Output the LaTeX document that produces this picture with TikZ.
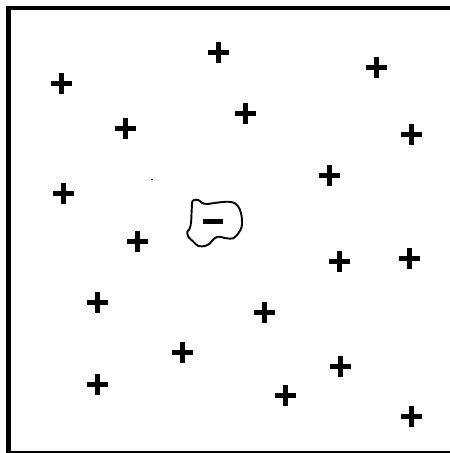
\documentclass[tikz,border=0pt]{standalone}
\begin{document}
\begin{tikzpicture}[x=1pt,y=-1pt,
  plussign/.pic={\draw[line width=5pt] (-10.5,0)--(10.5,0) (0,-10.5)--(0,10.5);},
  framestyle/.style={line width=4.6pt},
  blobstyle/.style={line width=1.9pt, line join=round}]
\clip (0,0) rectangle (450,453);
\fill[white] (0,0) rectangle (450,453);
% frame
\draw[framestyle] (8.5,7.8) rectangle (470,452.8);
% plus charges
\foreach \px/\py in {61/83, 218/52.5, 376/67, 125/128, 245/113.5, 411.7/134.3,
  63/193, 329/175, 137/241, 339/261, 409/258, 97/302, 264/312, 182/352,
  340/366.7, 97.5/384, 285/395, 411.7/416}
  \pic at (\px,\py) {plussign};
% small speck
\fill (152,179.5) circle (0.8);
% blob
\draw[blobstyle] plot[smooth cycle, tension=0.5] coordinates {
  (192.7,200.7) (198.3,200) (201.7,202.7) (206.7,204) (216.7,202.7)
  (228.3,201.7) (235,203.3) (239.3,208.3) (241.7,216.7) (241.7,226.7)
  (238.3,233.3) (233.3,238.3) (226.7,238.3) (218.3,236.7) (213.3,239.3)
  (210,243.3) (205,246) (198.3,246) (193.3,241.7) (188.3,236.7)
  (187.3,231.7) (189.3,229.3) (191,223.3) (191.7,210)};
% minus
\draw[line width=5pt] (203.3,221.5) -- (223.3,221.5);
\end{tikzpicture}
\end{document}
